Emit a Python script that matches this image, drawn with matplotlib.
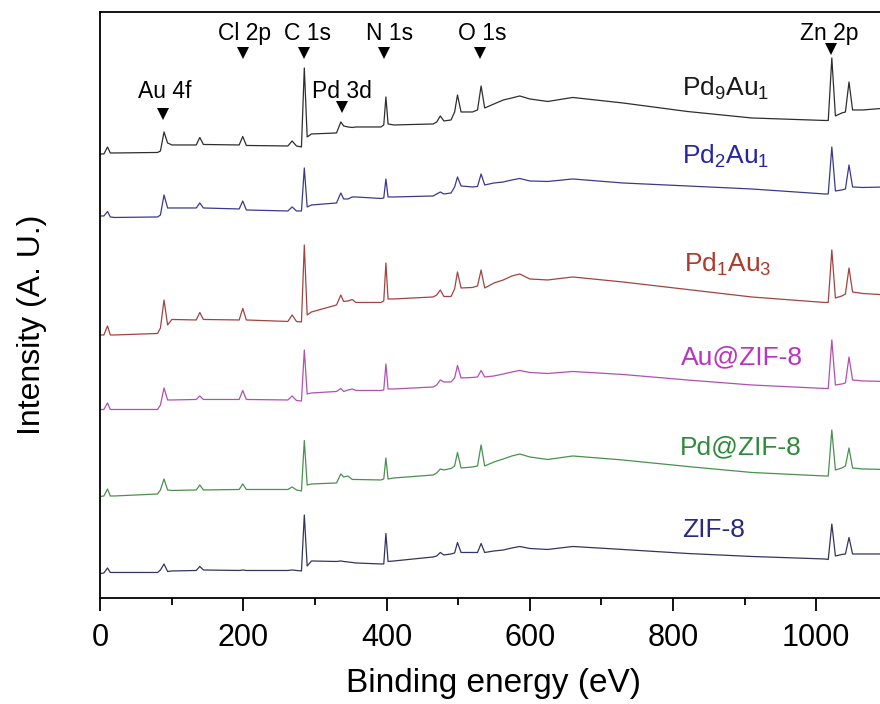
import matplotlib
matplotlib.use("Agg")
import matplotlib.pyplot as plt
from matplotlib.ticker import MultipleLocator

plt.rcParams['font.family'] = ['Liberation Sans', 'DejaVu Sans']
plt.rcParams['mathtext.fontset'] = 'custom'
plt.rcParams['mathtext.rm'] = 'Liberation Sans'
plt.rcParams['mathtext.default'] = 'regular'

energy = [0, 5, 10, 14, 20, 80, 84, 89, 94, 100, 134, 139, 144, 194, 199, 204,
          262, 268, 274, 281, 285, 289, 295, 330, 336, 340, 346, 352, 357,
          392, 396, 399, 402, 410, 465, 470, 475, 480, 490, 495, 499, 504,
          520, 527, 532, 537, 550, 563, 575, 586, 600, 625, 660, 730, 820,
          910, 1012, 1017, 1022, 1027, 1036, 1041, 1046, 1051, 1065, 1100]

# intensities (a.u.), each relative to its own start value
pd9au1 = [0, 0, 7, 1, 1, 1.5, 3, 22, 11, 9, 9, 16.5, 9.5, 9, 17.5, 8.5,
          8, 13, 8, 7, 86, 17, 20, 21, 32, 28, 27, 26.5, 27,
          27, 29, 57, 30, 29, 30, 32, 38, 33, 34, 42, 59, 42,
          42, 44, 68, 46, 50, 54, 56, 58, 55, 52.5, 56.5, 51, 42.5,
          36, 33.5, 33.5, 96, 38, 41, 42, 72, 44, 44, 46]
pd2au1 = [0, 0, 4.5, -1, -1.5, -1, 1, 21, 8, 8, 8, 13, 8, 7, 15, 6,
          5, 9, 5, 5, 48, 9, 11, 13, 23, 17, 17, 19, 19,
          17.5, 18, 37, 19, 19, 20, 22, 24, 22, 23, 29, 39, 30,
          29, 29.5, 42, 31, 33, 34, 36, 37.5, 35, 34.5, 37, 33, 30,
          27, 22, 22, 69, 25, 26, 27, 51, 29, 28.5, 29]
pd1au3 = [0, 0, 9, 0, 0, 1.5, 7, 35, 10, 15.5, 15, 22.5, 15.5, 15, 26.5, 15,
          13.5, 20, 13.5, 13, 90, 20, 23, 30, 40, 33.5, 34, 35.5, 32.5,
          32.5, 34, 72, 36, 36, 38, 40, 45, 38.5, 38.5, 46, 63, 47,
          47.5, 49, 65, 47, 52, 55, 59, 61, 56, 55, 58, 53, 45.5,
          38, 32.5, 32.5, 85, 37, 39, 41, 67, 43, 41.5, 40]
au_zif8 = [0, 0, 6.5, 0, 0, 0, 4.5, 21.5, 9.5, 9.5, 10, 13.5, 10, 10, 19, 10,
           9.5, 13.5, 9, 8.5, 59.5, 15.5, 16.5, 18, 21, 18, 19.5, 20.5, 19,
           19, 19.5, 45.5, 20.5, 20.5, 22.5, 24.5, 29.5, 27.5, 27.5, 31.5, 44, 31.5,
           32, 32.5, 39, 32.5, 33.5, 35.5, 37.5, 39, 37, 36, 38, 35, 29.5,
           24.5, 21, 21, 69.5, 24.5, 25.5, 26.5, 52.5, 29.5, 28.5, 28]
pd_zif8 = [0, 0.5, 7.5, 0.5, 0.5, 2.5, 6.5, 17.5, 6.5, 6, 6.5, 11.5, 6.5, 7, 12.5, 7,
           7, 9.5, 6.5, 5.5, 56, 11.5, 12.5, 13.5, 22.5, 19.5, 20.5, 17, 17,
           16.5, 17.5, 38.5, 17.5, 18.5, 21.5, 23.5, 27.5, 26.5, 28, 30.5, 44, 28.5,
           29.5, 30.5, 51.5, 30.5, 34.5, 37.5, 40.5, 42.5, 39.5, 37, 40.5, 36.5, 30,
           24, 20.5, 20.5, 66.5, 26.5, 28.5, 30.5, 48.5, 28.5, 27.5, 27]
zif8 = [0, 0.5, 5.5, 1, 1, 1, 3.5, 9.5, 2, 2.5, 3, 7, 3.5, 3, 3.5, 3,
        3, 3.5, 3, 2.5, 58.5, 7.5, 12.5, 12, 12.5, 12, 11.5, 11, 10.5,
        9.5, 9.5, 40, 12, 12.5, 16.5, 17.5, 21, 18.5, 19.5, 20.5, 31, 21,
        21, 21, 30, 21, 22.5, 23.5, 25.5, 27, 25, 24, 27, 24, 20,
        17, 14.5, 14, 49.5, 17.5, 19, 19.5, 36, 19.5, 19.5, 19.5]

samples = [r'Pd$_9$Au$_1$', r'Pd$_2$Au$_1$', r'Pd$_1$Au$_3$', 'Au@ZIF-8', 'Pd@ZIF-8', 'ZIF-8']
spectra = [pd9au1, pd2au1, pd1au3, au_zif8, pd_zif8, zif8]
offsets = [446, 384, 265, 190.5, 103.5, 26.5]
line_colors = ['#2e2e2e', '#3a3a8c', '#a04440', '#b050b0', '#4a9050', '#34345e']
text_colors = ['#1a1a1a', '#2525a5', '#b0382c', '#b835c0', '#2f8a3c', '#2a2a7c']
label_x = [873, 873, 876, 897, 895, 857]
label_y = [512, 444, 336, 243, 153, 70]

# peak assignments: label, marker energy, marker height, text height
peaks = ['Au 4f', 'Cl 2p', 'C 1s', 'Pd 3d', 'N 1s', 'O 1s', 'Zn 2p']
peak_e = [88, 200, 285, 338, 397, 531, 1021]
peak_text_e = [90, 202, 289, 338, 404, 533, 1019]
marker_y = [486, 547, 547, 493, 547, 547, 551]
text_y = [502, 560, 560, 502, 560, 560, 560]

fig = plt.figure(figsize=(8.8, 7.04), dpi=100)
ax = fig.add_axes([0.114, 0.1506, 0.8947, 0.8324])

for spec, off, col in zip(spectra, offsets, line_colors):
    ax.plot(energy, [v + off for v in spec], color=col, lw=0.9)

for name, x, y, c in zip(samples, label_x, label_y, text_colors):
    ax.text(x, y, name, color=c, fontsize=19, ha='center', va='center')

for name, e, te, my, ty in zip(peaks, peak_e, peak_text_e, marker_y, text_y):
    ax.plot(e, my, marker='v', color='black', ms=8, mew=0)
    ax.text(te, ty, name, fontsize=16.5, ha='center', va='baseline')

ax.set_xlim(0, 1100)
ax.set_ylim(2, 588)
ax.set_yticks([])
ax.xaxis.set_major_locator(MultipleLocator(200))
ax.xaxis.set_minor_locator(MultipleLocator(100))
ax.tick_params(axis='x', which='major', direction='out', length=9, width=1.3,
               labelsize=22, pad=9)
ax.tick_params(axis='x', which='minor', direction='out', length=5, width=1.3)
for sp in ax.spines.values():
    sp.set_linewidth(1.3)

ax.set_xlabel('Binding energy (eV)', fontsize=24)
ax.xaxis.set_label_coords(0.5, -0.1195)
ax.set_ylabel('Intensity (A. U.)', fontsize=23)
ax.yaxis.set_label_coords(-0.068, 0.466)

fig.savefig('out.png', dpi=100)
